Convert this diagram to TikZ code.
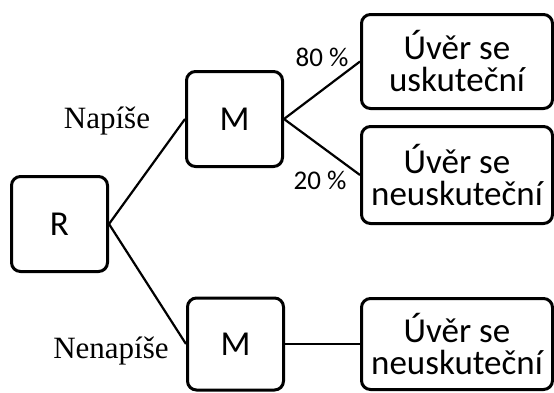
\documentclass[tikz,border=0pt]{standalone}
\usepackage{fontspec}
\setmainfont{Carlito}
\newfontfamily\serifnames{Liberation Serif}

\begin{document}
\begin{tikzpicture}[x=1pt, y=-1pt,
    boxnode/.style={rectangle, rounded corners=9pt, draw=black, line width=3pt, inner sep=0pt, align=center, font=\fontsize{35}{32}\selectfont},
    outcome/.style={boxnode, minimum width=191pt},
    playernode/.style={boxnode, minimum width=96pt},
    movelabel/.style={font=\serifnames\fontsize{31}{31}\selectfont, inner sep=0pt},
    problabel/.style={font=\fontsize{27}{27}\selectfont, inner sep=0pt},
    branch/.style={line width=2.2pt}
    ]
    \useasboundingbox (0,0) rectangle (554,392);

    \node [playernode, minimum height=95pt] (r) at (59.5, 224) {R};

    \node [playernode, minimum height=95pt] (m1) at (234.5, 119) {M};
    \node [playernode, minimum height=92pt] (m2) at (235.5, 344) {M};

    \node [outcome, minimum height=94pt] (u1) at (457, 61.5) {Úvěr se\\uskuteční};
    \node [outcome, minimum height=97pt] (u2) at (457, 175) {Úvěr se\\neuskuteční};
    \node [outcome, minimum height=91pt] (u3) at (457, 344) {Úvěr se\\neuskuteční};

    \node [movelabel] (nap) at (107, 121) {Napíše};
    \node [movelabel] (nenap) at (111, 351) {Nenapíše};
    \node [problabel] (p80) at (322, 57) {80 \%};
    \node [problabel] (p20) at (320, 180) {20 \%};

    \draw [branch] (r.east) -- (m1.west);
    \draw [branch] (r.east) -- (m2.west);
    \draw [branch] (m1.east) -- (u1.west);
    \draw [branch] (m1.east) -- (u2.west);
    \draw [branch] (m2.east) -- (u3.west);
\end{tikzpicture}
\end{document}
